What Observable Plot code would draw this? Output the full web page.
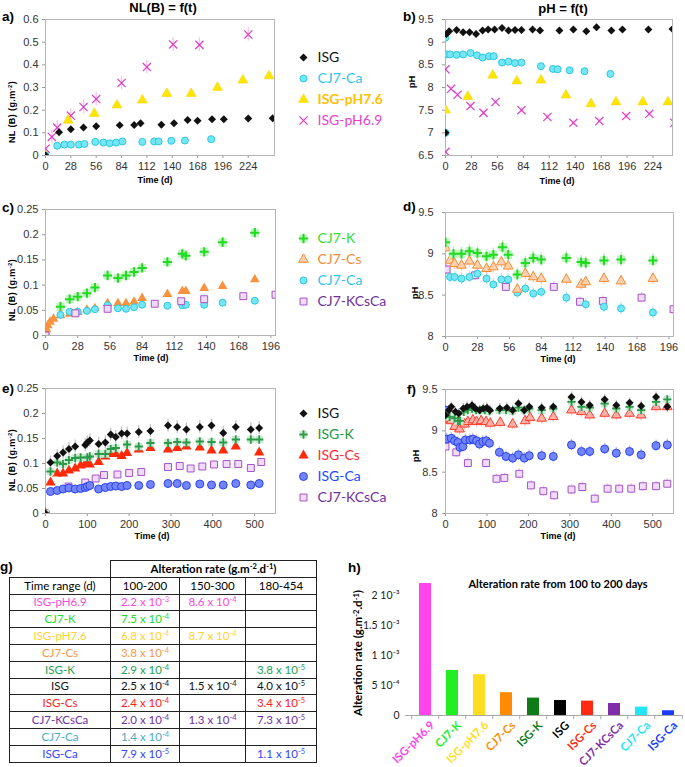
<!DOCTYPE html>
<html><head><meta charset="utf-8">
<script src="https://cdn.jsdelivr.net/npm/d3@7"></script>
<script src="https://cdn.jsdelivr.net/npm/@observablehq/plot@0.6"></script>
<style>
body{margin:0;background:#fff;}
#root{position:relative;width:685px;height:767px;overflow:hidden;background:#fff;}
#root sup{font-size:0.65em;line-height:0;vertical-align:0.5em;}
svg g[aria-label="x-axis tick"], svg g[aria-label="y-axis tick"]{stroke:#999;}
svg g[aria-label="x-axis"] line, svg g[aria-label="y-axis"] line{stroke:#999;}
#tg{position:absolute;left:9px;top:560px;border-collapse:collapse;font-family:Lato,sans-serif;font-size:11.5px;table-layout:fixed;width:307px;}
#tg td{border:1px solid #222;height:15.8px;padding:0;text-align:center;line-height:14px;white-space:nowrap;}
#tg sup{font-size:7.5px;line-height:0;vertical-align:4px;}
</style></head>
<body><div id="root"></div>
<script>
// ---------------- DATA ----------------
// Panel a: NL(B) vs time [t (d), g.m-2]
const aISG = [[0,0],[15,0.103],[28,0.116],[42,0.123],[56,0.129],[82,0.134],[98,0.135],[105,0.142],[128,0.136],[142,0.142],[157,0.157],[168,0.153],[184,0.16],[197,0.16],[224,0.163],[251,0.164]];
const aCJ7Ca = [[0,0],[13,0.043],[21,0.048],[28,0.048],[37,0.048],[43,0.051],[55,0.06],[64,0.057],[71,0.054],[78,0.057],[85,0.062],[107,0.06],[120,0.062],[125,0.062],[139,0.065],[154,0.066],[183,0.072]];
const aPH76 = [[0,0],[25,0.155],[54,0.185],[79,0.222],[107,0.244],[134,0.273],[161,0.273],[190,0.30],[218,0.332],[247,0.351]];
const aPH69 = [[0,0.03],[7,0.082],[13,0.123],[28,0.176],[42,0.214],[56,0.249],[84,0.32],[112,0.39],[141,0.49],[170,0.488],[224,0.534]];
// Panel b: pH vs time
const bISG = [[0,7.0],[1,9.18],[4,9.24],[12,9.27],[19,9.22],[26,9.22],[33,9.18],[40,9.26],[46,9.28],[53,9.28],[61,9.31],[68,9.26],[75,9.27],[82,9.27],[94,9.28],[102,9.26],[123,9.26],[138,9.28],[152,9.24],[163,9.33],[179,9.26],[191,9.28],[219,9.28],[245,9.29]];
const bCJ7Ca = [[0,9.1],[0,7.0],[1.5,8.73],[5,8.73],[12,8.72],[19,8.73],[27,8.76],[34,8.71],[40,8.66],[47,8.69],[52,8.69],[61,8.55],[68,8.57],[75,8.54],[82,8.55],[103,8.47],[116,8.41],[121,8.4],[134,8.38],[150,8.36],[178,8.3]];
const bPH76 = [[0,7.5],[24,7.8],[51,8.27],[77,8.14],[103,8.16],[130,7.83],[157,7.64],[184,7.68],[213,7.68],[240,7.68]];
const bPH69 = [[0,8.4],[0,6.58],[6,7.97],[13,7.84],[27,7.59],[41,7.44],[54,7.68],[82,7.5],[110,7.35],[138,7.22],[166,7.26],[195,7.37],[220,7.42],[247,7.22]];
// Panel c: NL(B) vs time
const cCJ7K = [[0,0],[13,0.057],[21,0.072],[28,0.077],[36,0.084],[43,0.095],[54,0.119],[63,0.114],[70,0.119],[77,0.126],[84,0.134],[106,0.146],[119,0.162],[122,0.158],[138,0.166],[154,0.185],[182,0.204]];
const cCJ7Cs = [[0,0],[1,0.012],[2,0.02],[4,0.027],[7,0.033],[13,0.04],[21,0.043],[28,0.046],[36,0.051],[43,0.054],[54,0.064],[63,0.064],[70,0.064],[77,0.067],[84,0.074],[106,0.082],[119,0.088],[122,0.088],[138,0.094],[154,0.098],[182,0.111]];
const cCJ7Ca = [[0,0],[13,0.041],[21,0.047],[28,0.047],[36,0.049],[43,0.052],[54,0.06],[63,0.054],[70,0.053],[77,0.056],[84,0.061],[106,0.059],[119,0.06],[122,0.061],[138,0.061],[154,0.065],[182,0.069]];
const cKCsCa = [[0,0],[26,0.044],[54,0.053],[95,0.063],[118,0.068],[138,0.072],[172,0.078],[200,0.081]];
// Panel d: pH vs time
const dCJ7K = [[0,9.14],[7,9.0],[14,9.0],[21,9.03],[28,9.01],[36,8.97],[42,8.99],[50,9.08],[55,8.99],[63,8.75],[70,8.89],[77,8.95],[84,8.93],[106,8.95],[119,8.9],[123,8.89],[139,8.92],[154,8.93],[182,8.92]];
const dCJ7Cs = [[0,9.07],[4,8.92],[8,8.88],[14,8.86],[21,8.91],[28,8.86],[36,8.82],[42,8.84],[49,8.9],[55,8.85],[63,8.57],[70,8.76],[77,8.72],[84,8.7],[106,8.69],[119,8.63],[123,8.66],[139,8.7],[154,8.67],[182,8.7]];
const dCJ7Ca = [[0,9.12],[4,8.72],[8,8.72],[14,8.7],[21,8.72],[28,8.76],[36,8.7],[42,8.63],[49,8.69],[55,8.69],[63,8.53],[70,8.58],[77,8.52],[84,8.54],[106,8.47],[123,8.39],[139,8.36],[154,8.34],[182,8.29]];
const dKCsCa = [[1,8.81],[26,8.74],[53,8.6],[95,8.6],[118,8.42],[138,8.43],[172,8.47],[200,8.33]];
// Panel e: NL(B) vs time
const eISG = [[0,0],[12,0.102],[28,0.115],[42,0.122],[56,0.129],[71,0.134],[95,0.137],[100,0.142],[106,0.146],[127,0.139],[143,0.142],[156,0.158],[168,0.153],[182,0.16],[195,0.16],[223,0.163],[251,0.165],[293,0.176],[315,0.173],[337,0.168],[369,0.173],[397,0.176],[425,0.161],[455,0.173],[491,0.168],[511,0.171]];
const eISGK = [[0,0],[12,0.084],[28,0.102],[42,0.099],[56,0.107],[71,0.111],[84,0.112],[100,0.112],[106,0.114],[127,0.119],[143,0.119],[156,0.129],[168,0.131],[195,0.138],[223,0.134],[251,0.141],[293,0.141],[315,0.143],[337,0.142],[369,0.144],[397,0.143],[425,0.142],[455,0.148],[491,0.148],[511,0.148]];
const eISGCs = [[0,0],[12,0.062],[28,0.08],[42,0.08],[56,0.086],[71,0.09],[84,0.096],[95,0.099],[100,0.099],[106,0.098],[127,0.103],[143,0.114],[156,0.119],[168,0.119],[182,0.115],[195,0.121],[223,0.128],[251,0.131],[293,0.128],[315,0.131],[337,0.134],[369,0.132],[397,0.126],[425,0.126],[455,0.134],[511,0.122]];
const eISGCa = [[0,0],[12,0.044],[28,0.046],[42,0.049],[56,0.051],[71,0.049],[84,0.05],[95,0.052],[100,0.054],[106,0.056],[127,0.049],[143,0.052],[156,0.054],[168,0.055],[182,0.054],[195,0.056],[223,0.056],[251,0.058],[293,0.06],[315,0.06],[337,0.056],[369,0.059],[397,0.057],[425,0.057],[455,0.06],[491,0.057],[511,0.06]];
const eKCsCa = [[0,0],[55,0.054],[95,0.062],[120,0.07],[140,0.077],[172,0.078],[200,0.081],[229,0.083],[293,0.093],[321,0.095],[347,0.09],[375,0.094],[403,0.098],[433,0.099],[461,0.099],[491,0.091],[516,0.103]];
// Panel f: pH vs time
const fISG = [[0,9.19],[8,9.25],[14,9.29],[24,9.23],[32,9.21],[43,9.27],[52,9.29],[64,9.31],[72,9.27],[82,9.25],[91,9.27],[100,9.28],[107,9.25],[131,9.27],[148,9.28],[162,9.25],[176,9.33],[190,9.25],[202,9.29],[232,9.28],[260,9.29],[304,9.41],[328,9.35],[348,9.31],[384,9.38],[412,9.31],[444,9.34],[472,9.3],[508,9.41],[535,9.29]];
const fISGK = [[0,9.19],[10,9.17],[22,9.15],[30,9.12],[35,9.12],[44,9.23],[54,9.25],[64,9.27],[74,9.25],[84,9.25],[95,9.25],[106,9.24],[130,9.25],[146,9.25],[162,9.24],[176,9.28],[190,9.25],[202,9.27],[232,9.25],[260,9.27],[304,9.35],[328,9.29],[348,9.28],[384,9.33],[412,9.27],[444,9.29],[472,9.25],[508,9.35],[535,9.38]];
const fISGCs = [[0,9.13],[6,9.15],[14,9.12],[22,9.05],[34,9.02],[46,9.08],[54,9.11],[66,9.13],[75,9.11],[86,9.12],[98,9.11],[108,9.09],[132,9.1],[162,9.08],[192,9.12],[204,9.16],[232,9.15],[260,9.17],[304,9.25],[328,9.23],[348,9.19],[384,9.21],[412,9.19],[444,9.21],[472,9.19],[508,9.29],[535,9.29]];
const fISGCa = [[0,9.25],[3,8.9],[14,8.91],[22,8.88],[30,8.86],[35,8.8],[42,8.81],[48,8.89],[59,8.89],[66,8.9],[75,8.88],[82,8.84],[90,8.87],[98,8.88],[106,8.85],[130,8.74],[146,8.69],[162,8.67],[176,8.71],[190,8.67],[202,8.7],[232,8.7],[260,8.69],[304,8.83],[328,8.75],[348,8.75],[384,8.78],[412,8.73],[444,8.75],[472,8.71],[508,8.82],[535,8.83]];
const fKCsCa = [[0,8.81],[26,8.74],[54,8.61],[98,8.61],[123,8.42],[142,8.43],[178,8.48],[206,8.34],[236,8.27],[262,8.22],[304,8.29],[330,8.32],[360,8.18],[391,8.3],[419,8.3],[448,8.3],[476,8.33],[508,8.33],[535,8.36]];
// Ticks
const ticksDays28 = [0,28,56,84,112,140,168,196,224];
const ticksDays28c = [0,28,56,84,112,140,168,196];
const ticksDays100 = [0,100,200,300,400,500];
const ticksNLa = [0,0.1,0.2,0.3,0.4,0.5,0.6];
const ticksNLc = [0,0.05,0.1,0.15,0.2,0.25];
const ticksPHb = [6.5,7,7.5,8,8.5,9,9.5];
const ticksPHd = [8,8.5,9,9.5];
// Table g / bar chart h
const rateNames = ["ISG-pH6.9","CJ7-K","ISG-pH7.6","CJ7-Cs","ISG-K","ISG","ISG-Cs","CJ7-KCsCa","CJ7-Ca","ISG-Ca"];
const rate100_200 = [2.2e-3,7.5e-4,6.8e-4,3.8e-4,2.9e-4,2.5e-4,2.4e-4,2.0e-4,1.4e-4,7.9e-5];
const rate150_300 = [8.6e-4,null,8.7e-4,null,null,1.5e-4,null,1.3e-4,null,null];
const rate180_454 = [null,null,null,null,3.8e-5,4.0e-5,3.4e-5,7.3e-5,null,1.1e-5];
const timeRanges = ["100-200","150-300","180-454"];
const tableColors = ["#ff48dc","#22dd22","#ffd22e","#f79646","#22a34f","#111111","#ff2020","#7030a0","#4bacc6","#3344ff"];
const barColors = ["#ff44ee","#22ee22","#ffdd22","#ff8c00","#0e7a18","#000000","#ff2a10","#7f2ea8","#22e6f6","#1a3aff"];
const hTicks = [0,0.0005,0.001,0.0015,0.002];
const hTickLabels = ["0","5 10⁻⁴","1 10⁻³","1.5 10⁻³","2 10⁻³"];

// ---------------- STYLES ----------------
const S = {
  ISG:   [{symbol:"diamond2", r:3.6, fill:"#111"}],
  CJ7Ca: [{symbol:"circle", r:3.5, fill:"#74e6f4", stroke:"#2cc8de", strokeWidth:1}],
  P76:   [{symbol:"triangle", r:3.7, fill:"#ffe600", stroke:"#f2cf00", strokeWidth:0.5}],
  P69:   [{symbol:"times", r:3.8, fill:"none", stroke:"#e03cc6", strokeWidth:1.2}],
  CJ7K:  [{symbol:"square", r:4.6, fill:"#c4f2c4"}, {symbol:"plus", r:3.1, fill:"none", stroke:"#1fdc1f", strokeWidth:2}],
  CJ7CsF:[{symbol:"triangle", r:3.6, fill:"#f7923e"}],
  CJ7CsO:[{symbol:"triangle", r:3.6, fill:"#fcd2ae", stroke:"#f58a34", strokeWidth:1}],
  KCsCa: [{symbol:"square", r:3.9, fill:"#f0dcf8", stroke:"#a452c8", strokeWidth:1}],
  ISGK:  [{symbol:"square", r:4.2, fill:"#cbe8d2"}, {symbol:"plus", r:2.8, fill:"none", stroke:"#2a9a48", strokeWidth:1.8}],
  ISGCsF:[{symbol:"triangle", r:3.8, fill:"#ff2a0a"}],
  ISGCsO:[{symbol:"triangle", r:3.6, fill:"#ffb0a8", stroke:"#ff3a28", strokeWidth:1}],
  ISGCa: [{symbol:"circle", r:4, fill:"#7285ff", stroke:"#2a42ee", strokeWidth:1}]
};

// ---------------- HELPERS ----------------
const root = document.getElementById("root");
const FONT = "'Liberation Sans', Arial, sans-serif";
function place(el, x, y){ el.style.position="absolute"; el.style.left=x+"px"; el.style.top=y+"px"; root.appendChild(el); }
function T(html, x, y, o={}){
  const d=document.createElement("div"); d.innerHTML=html; const s=d.style;
  s.position="absolute"; s.left=x+"px"; s.top=y+"px"; s.whiteSpace="nowrap"; s.lineHeight="1";
  s.fontFamily=o.family||FONT; s.fontSize=(o.size||11)+"px"; s.fontWeight=o.weight||"bold"; s.color=o.color||"#000";
  if(o.ls) s.letterSpacing=o.ls;
  const tx=o.anchor==="start"?"0":o.anchor==="end"?"-100%":"-50%";
  s.transform=`translate(${tx},-50%)`+(o.rotate?` rotate(${o.rotate}deg)`:"");
  root.appendChild(d);
}
function scatter(c){
  const [fl,fr,ft,fb]=c.frame;
  const marks=[Plot.frame({stroke:"#b4b4b4"})];
  c.series.forEach(s=>{ if(s.err) marks.push(Plot.ruleX(s.data,{x:d=>d[0],y1:d=>d[1]-s.err,y2:d=>d[1]+s.err,stroke:s.ec,strokeWidth:1.3,strokeOpacity:0.7,clip:true})); });
  c.series.forEach(s=>s.sym.forEach(o=>marks.push(Plot.dot(s.data,{x:d=>d[0],y:d=>d[1],clip:true,...o}))));
  const svg=Plot.plot({
    width:c.sw,height:c.sh,marginLeft:fl-c.sx,marginRight:c.sx+c.sw-fr,marginTop:ft-c.sy,marginBottom:c.sy+c.sh-fb,
    style:{fontFamily:FONT,fontSize:"11px",color:"#333",background:"none",overflow:"visible"},
    x:{domain:c.xd,ticks:c.xt,tickFormat:d=>String(d),tickSize:3,tickPadding:4,label:null},
    y:{domain:c.yd,ticks:c.yt,tickFormat:d=>String(d),tickSize:3,tickPadding:c.yPad,label:null},
    marks
  });
  place(svg,c.sx,c.sy);
}
function legend(items, y0, sp){
  const names=items.map(d=>d.name), h=items.length*sp, marks=[];
  items.forEach(it=>{
    it.sym.forEach(o=>marks.push(Plot.dot([it.name],{x:()=>0,y:d=>d,...o})));
    marks.push(Plot.text([it.name],{x:()=>0,y:d=>d,dx:14,text:d=>d,textAnchor:"start",fill:it.color,fontWeight:it.bold?"bold":"normal",fontSize:14,fontFamily:"Lato, sans-serif"}));
  });
  const svg=Plot.plot({width:125,height:h,margin:0,style:{background:"none",overflow:"visible"},
    x:{domain:[0,1],range:[8,9],axis:null},
    y:{type:"point",domain:names,range:[sp/2,h-sp/2],padding:0,axis:null},marks});
  place(svg,295,y0-sp/2);
}

// ---------------- PANELS a-f ----------------
scatter({sx:0,sy:0,sw:285,sh:177,frame:[45,274,19,155],xd:[0,253],yd:[0,0.6],xt:ticksDays28,yt:ticksNLa,yPad:4,series:[
  {data:aPH69,sym:S.P69,err:0.03,ec:"#f2a6e6"},
  {data:aPH76,sym:S.P76,err:0.012,ec:"#f3e27a"},
  {data:aCJ7Ca,sym:S.CJ7Ca,err:0.003,ec:"#8fe8f2"},
  {data:aISG,sym:S.ISG,err:0.004,ec:"#999"}]});
scatter({sx:400,sy:0,sw:285,sh:177,frame:[445,672,19,155],xd:[0,245],yd:[6.5,9.5],xt:ticksDays28,yt:ticksPHb,yPad:9,series:[
  {data:bPH69,sym:S.P69,err:0.05,ec:"#f2a6e6"},
  {data:bPH76,sym:S.P76,err:0.03,ec:"#f3e27a"},
  {data:bCJ7Ca,sym:S.CJ7Ca,err:0.04,ec:"#8fe8f2"},
  {data:bISG,sym:S.ISG,err:0.04,ec:"#999"}]});
scatter({sx:0,sy:195,sw:285,sh:162,frame:[45,275,209,335],xd:[0,200],yd:[0,0.25],xt:ticksDays28c,yt:ticksNLc,yPad:4,series:[
  {data:cCJ7K,sym:S.CJ7K,err:0.009,ec:"#8fe88f"},
  {data:cCJ7Cs,sym:S.CJ7CsF,err:0.003,ec:"#f8b888"},
  {data:cCJ7Ca,sym:S.CJ7Ca,err:0.003,ec:"#8fe8f2"},
  {data:cKCsCa,sym:S.KCsCa,err:0.003,ec:"#cfa8e0"}]});
scatter({sx:400,sy:195,sw:285,sh:163,frame:[445,673,212,336],xd:[0,200],yd:[8,9.5],xt:ticksDays28c,yt:ticksPHd,yPad:9,series:[
  {data:dKCsCa,sym:S.KCsCa,err:0.06,ec:"#cfa8e0"},
  {data:dCJ7Ca,sym:S.CJ7Ca,err:0.07,ec:"#8fe0f2"},
  {data:dCJ7Cs,sym:S.CJ7CsO,err:0.07,ec:"#f8b0a0"},
  {data:dCJ7K,sym:S.CJ7K,err:0.08,ec:"#8fe88f"}]});
scatter({sx:0,sy:375,sw:285,sh:160,frame:[45,275,388,513],xd:[0,550],yd:[0,0.25],xt:ticksDays100,yt:ticksNLc,yPad:4,series:[
  {data:eKCsCa,sym:S.KCsCa,err:0.004,ec:"#cfa8e0"},
  {data:eISGCa,sym:S.ISGCa,err:0.004,ec:"#9aa8ff"},
  {data:eISGCs,sym:S.ISGCsF,err:0.006,ec:"#ff9a90"},
  {data:eISGK,sym:S.ISGK,err:0.006,ec:"#9acaa8"},
  {data:eISG,sym:S.ISG,err:0.013,ec:"#aaa"}]});
scatter({sx:400,sy:375,sw:285,sh:160,frame:[445,673,389,513],xd:[0,550],yd:[8,9.5],xt:ticksDays100,yt:ticksPHd,yPad:5,series:[
  {data:fKCsCa,sym:S.KCsCa,err:0.06,ec:"#d8b8e8"},
  {data:fISGCa,sym:S.ISGCa,err:0.07,ec:"#9aa8ff"},
  {data:fISGCs,sym:S.ISGCsO,err:0.07,ec:"#ffa8a0"},
  {data:fISGK,sym:S.ISGK,err:0.05,ec:"#9acaa8"},
  {data:fISG,sym:S.ISG,err:0.06,ec:"#aaa"}]});

// ---------------- LEGENDS ----------------
legend([
  {name:"ISG",color:"#111",sym:S.ISG},
  {name:"CJ7-Ca",color:"#2fc4ec",sym:S.CJ7Ca},
  {name:"ISG-pH7.6",color:"#ffc000",bold:true,sym:S.P76},
  {name:"ISG-pH6.9",color:"#e83fcf",sym:S.P69}], 56, 21);
legend([
  {name:"CJ7-K",color:"#33dd33",sym:S.CJ7K},
  {name:"CJ7-Cs",color:"#f58a3a",sym:S.CJ7CsO},
  {name:"CJ7-Ca",color:"#2fc4ec",sym:S.CJ7Ca},
  {name:"CJ7-KCsCa",color:"#7030a0",sym:S.KCsCa}], 238, 21.3);
legend([
  {name:"ISG",color:"#111",sym:S.ISG},
  {name:"ISG-K",color:"#22963e",sym:S.ISGK},
  {name:"ISG-Cs",color:"#ff2a2a",sym:S.ISGCsF},
  {name:"ISG-Ca",color:"#2248ff",sym:S.ISGCa},
  {name:"CJ7-KCsCa",color:"#7030a0",sym:S.KCsCa}], 412, 21.5);

// ---------------- TEXT LABELS ----------------
T("NL(B) = f(t)",163,7,{size:13});
T("pH = f(t)",563,7.5,{size:13});
[["a)",2,17],["b)",403,17],["c)",2,208],["d)",403,207],["e)",2,389],["f)",407,390],["g)",0,567],["h)",348,568]]
  .forEach(([t,x,y])=>T(t,x,y,{size:13.5,anchor:"start"}));
[[12,112],[12,290],[12,460]].forEach(([x,y])=>T("NL (B) (g.m<sup>-2</sup>)",x,y,{size:9,rotate:-90,ls:"0.4px"}));
[[412,82],[415,293],[416,456]].forEach(([x,y])=>T("pH",x,y,{size:9.5,rotate:-90}));
[[155,180],[557,181],[151,358],[558,359],[152,536],[558,536]].forEach(([x,y])=>T("Time (d)",x,y,{size:9}));

// ---------------- TABLE g ----------------
function fmtRate(v){ if(v==null) return ""; const e=Math.floor(Math.log10(v)+1e-9); const m=(v/Math.pow(10,e)).toFixed(1); return `${m} x 10<sup>${e}</sup>`; }
let html = `<colgroup><col style="width:101px"><col style="width:69px"><col style="width:66px"><col style="width:71px"></colgroup>`;
html += `<tr><td style="border:none;border-bottom:1px solid #222"></td><td colspan="3" style="font-weight:bold">Alteration rate (g.m<sup>-2</sup>.d<sup>-1</sup>)</td></tr>`;
html += `<tr><td>Time range (d)</td>${timeRanges.map(t=>`<td>${t}</td>`).join("")}</tr>`;
rateNames.forEach((n,i)=>{
  const c=tableColors[i];
  html += `<tr style="color:${c}"><td>${n}</td><td>${fmtRate(rate100_200[i])}</td><td>${fmtRate(rate150_300[i])}</td><td>${fmtRate(rate180_454[i])}</td></tr>`;
});
const tbl=document.createElement("table"); tbl.id="tg"; tbl.innerHTML=html; root.appendChild(tbl);

// ---------------- BAR CHART h ----------------
const hData = rateNames.map((n,i)=>({name:n, v:rate100_200[i], col:barColors[i]}));
const hPlot = Plot.plot({
  width:340,height:192,marginLeft:60,marginRight:3,marginTop:2,marginBottom:52,
  style:{fontFamily:"Lato, sans-serif",fontSize:"10.5px",color:"#222",background:"none",overflow:"visible"},
  x:{type:"band",domain:rateNames,range:[60,342],paddingInner:0.565,paddingOuter:0.4,axis:null},
  y:{domain:[0,0.0023],ticks:hTicks,tickFormat:d=>hTickLabels[hTicks.indexOf(d)],tickSize:0,tickPadding:6,label:null},
  color:{type:"identity"},
  marks:[
    Plot.barY(hData,{x:"name",y:"v",fill:"col"}),
    Plot.ruleY([0],{stroke:"#a8a8a8"}),
    Plot.ruleX(hData,{x:"name",y1:0,y2:-0.00007,dx:-13.78,stroke:"#a8a8a8"}),
    Plot.ruleX(hData.slice(-1),{x:"name",y1:0,y2:-0.00007,dx:13.78,stroke:"#a8a8a8"}),
    Plot.text(hData,{x:"name",y:0,text:"name",rotate:-45,textAnchor:"end",dx:7,dy:8,fill:"col",fontWeight:"bold",fontSize:11.5,fontFamily:"Lato, sans-serif"})
  ]
});
place(hPlot,345,575);
T("Alteration rate from 100 to 200 days",558,583,{family:"Lato, sans-serif",size:11});
T("Alteration rate (g.m<sup>-2</sup>.d<sup>-1</sup>)",358,653,{family:"Lato, sans-serif",size:11.5,rotate:-90});
</script>
</body></html>
